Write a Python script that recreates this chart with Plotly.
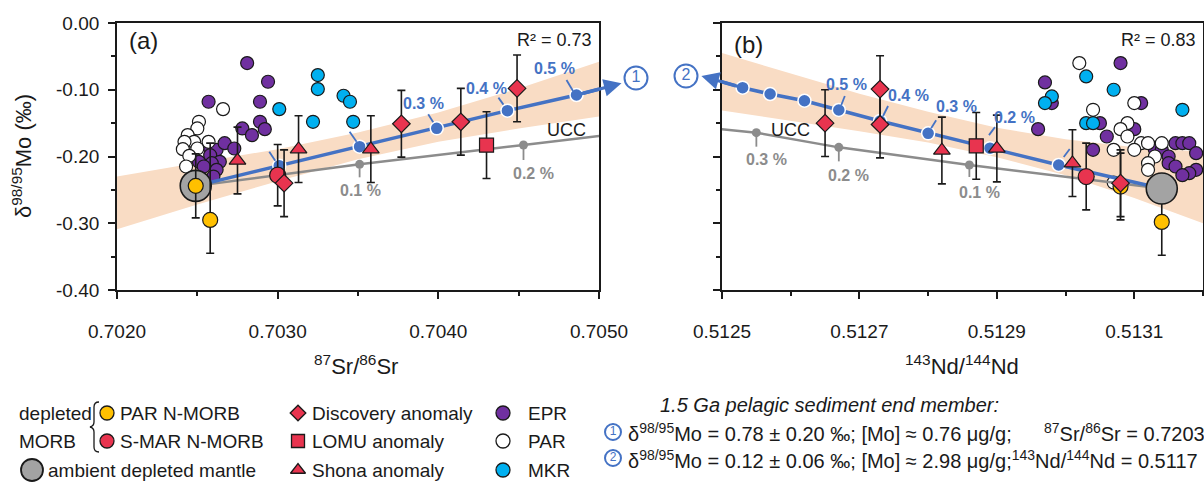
import plotly.graph_objects as go

W, H = 1204, 488

# ---------------- panel (a): 87Sr/86Sr vs d98/95Mo ----------------
epr_a_x = [0.70281, 0.70294, 0.70257, 0.70289, 0.70289, 0.70292, 0.70278, 0.70284, 0.70258, 0.70262,
           0.70258, 0.70264, 0.70259, 0.70262, 0.70251, 0.70267, 0.70273, 0.70260, 0.70254]
epr_a_y = [-0.060, -0.088, -0.118, -0.118, -0.148, -0.159, -0.158, -0.168, -0.188, -0.190,
           -0.198, -0.208, -0.210, -0.220, -0.208, -0.180, -0.188, -0.230, -0.215]
par_a_x = [0.70266, 0.70251, 0.70250, 0.70244, 0.70248, 0.70257, 0.70242, 0.70241, 0.70250, 0.70245, 0.70243]
par_a_y = [-0.129, -0.148, -0.158, -0.168, -0.178, -0.178, -0.178, -0.189, -0.188, -0.199, -0.215]
mkr_a_x = [0.70325, 0.70325, 0.70301, 0.70322, 0.70341, 0.70345, 0.70347]
mkr_a_y = [-0.078, -0.099, -0.129, -0.148, -0.109, -0.118, -0.148]

parn_a_x = [0.70249, 0.70258]
parn_a_y = [-0.244, -0.295]
parn_a_e = [0.048, 0.115]
parn_a_em = [0.048, 0.050]
smar_a_x = [0.70300]
smar_a_y = [-0.228]
smar_a_e = [0.046]
disc_a_x = [0.70304, 0.70377, 0.70414, 0.70449]
disc_a_y = [-0.240, -0.151, -0.148, -0.098]
disc_a_e = [0.050, 0.050, 0.050, 0.050]
lomu_a_x = [0.70430]
lomu_a_y = [-0.183]
lomu_a_e = [0.050]
shona_a_x = [0.70275, 0.70313, 0.70358]
shona_a_y = [-0.206, -0.189, -0.189]
shona_a_e = [0.050, 0.050, 0.050]
adm_a_x = [0.70249]
adm_a_y = [-0.244]

mix_a_x = [0.70249, 0.70301, 0.70351, 0.70399, 0.70443, 0.70486, 0.70514]
mix_a_y = [-0.244, -0.2137, -0.1853, -0.1578, -0.1313, -0.1079, -0.0904]
mix_a_lab = ["", "", "0.3 %", "0.4 %", "0.5 %"]
ucc_a_x = [0.70249, 0.70351, 0.70453, 0.70510]
ucc_a_y = [-0.244, -0.2117, -0.1828, -0.1665]
ucc_a_lab = ["0.1 %", "0.2 %"]

band_a_x = [0.7020, 0.7025, 0.7030, 0.7035, 0.7040, 0.7045, 0.7050]
band_a_up = [-0.230, -0.210, -0.189, -0.164, -0.134, -0.098, -0.058]
band_a_lo = [-0.309, -0.272, -0.237, -0.204, -0.178, -0.158, -0.140]

# ---------------- panel (b): 143Nd/144Nd vs d98/95Mo ----------------
epr_b_x = [0.51308, 0.51297, 0.51298, 0.51311, 0.51305, 0.51296, 0.51310, 0.51306, 0.51316, 0.51317,
           0.51318, 0.51304, 0.51313, 0.51314, 0.51319, 0.51315, 0.51315, 0.51316, 0.51319, 0.51318, 0.51317]
epr_b_y = [-0.060, -0.089, -0.120, -0.120, -0.150, -0.159, -0.159, -0.170, -0.180, -0.180,
           -0.180, -0.190, -0.190, -0.190, -0.195, -0.200, -0.210, -0.215, -0.220, -0.225, -0.228]
par_b_x = [0.51302, 0.51310, 0.51304, 0.51309, 0.51308, 0.51309, 0.51311, 0.51312, 0.51314,
           0.51307, 0.51310, 0.51313, 0.51312, 0.51312, 0.51307]
par_b_y = [-0.060, -0.120, -0.130, -0.150, -0.159, -0.170, -0.180, -0.180, -0.180,
           -0.190, -0.190, -0.200, -0.210, -0.220, -0.239]
mkr_b_x = [0.51303, 0.51307, 0.51298, 0.51297, 0.51303, 0.51304, 0.51317]
mkr_b_y = [-0.080, -0.100, -0.110, -0.120, -0.150, -0.150, -0.130]

parn_b_x = [0.51308, 0.51314]
parn_b_y = [-0.245, -0.298]
parn_b_e = [0.050, 0.050]
parn_b_em = [0.050, 0.050]
smar_b_x = [0.51303]
smar_b_y = [-0.230]
smar_b_e = [0.050]
disc_b_x = [0.51265, 0.51273, 0.51273, 0.51308]
disc_b_y = [-0.150, -0.099, -0.152, -0.240]
disc_b_e = [0.050, 0.050, 0.050, 0.050]
lomu_b_x = [0.51287]
lomu_b_y = [-0.184]
lomu_b_e = [0.050]
shona_b_x = [0.51282, 0.51290, 0.51301]
shona_b_y = [-0.191, -0.188, -0.210]
shona_b_e = [0.050, 0.050, 0.050]
adm_b_x = [0.51314]
adm_b_y = [-0.248]

mix_b_x = [0.51314, 0.51299, 0.51289, 0.51280, 0.51273, 0.51267, 0.51262, 0.51257, 0.51253, 0.51247]
mix_b_y = [-0.248, -0.2127, -0.1875, -0.1653, -0.1468, -0.1303, -0.1164, -0.1064, -0.0969, -0.0794]
mix_b_lab = ["", "0.2 %", "0.3 %", "0.4 %", "0.5 %"]
ucc_b_x = [0.51314, 0.51286, 0.51267, 0.51255, 0.51245]
ucc_b_y = [-0.248, -0.2127, -0.1863, -0.1643, -0.1540]
ucc_b_lab = ["0.1 %", "0.2 %", "0.3 %"]

band_b_x = [0.5125, 0.5126, 0.5127, 0.5128, 0.5129, 0.5130, 0.5131, 0.5132]
band_b_up = [-0.045, -0.076, -0.106, -0.133, -0.157, -0.174, -0.186, -0.193]
band_b_lo = [-0.131, -0.146, -0.162, -0.179, -0.201, -0.228, -0.262, -0.300]

# ---------------- axes ticks ----------------
y_ticks = [0.0, -0.1, -0.2, -0.3, -0.4]
y_tick_labels = ["0.00", "-0.10", "-0.20", "-0.30", "-0.40"]
y_minor = [-0.05, -0.15, -0.25, -0.35]
sr_ticks = [0.7020, 0.7030, 0.7040, 0.7050]
sr_tick_labels = ["0.7020", "0.7030", "0.7040", "0.7050"]
sr_minor = [0.7025, 0.7035, 0.7045]
nd_ticks = [0.5125, 0.5127, 0.5129, 0.5131]
nd_tick_labels = ["0.5125", "0.5127", "0.5129", "0.5131"]
nd_minor = [0.5126, 0.5128, 0.5130, 0.5132]

# ---------------- styles ----------------
FONT = "Arial, Liberation Sans, sans-serif"
INK = "#1a1a1a"
BLUE = "#4472C4"
UCCG = "#8C8C8C"
PURPLE = "#7030A0"
CYAN = "#00B0F0"
YELLOW = "#FFC000"
RED = "#E8344F"
ADM = "#A3A3A3"
BAND = "#F9DCC4"

fig = go.Figure()


def mk(color, size, symbol="circle", lw=1.2, lc=INK):
    return dict(color=color, size=size, symbol=symbol, line=dict(color=lc, width=lw))


def err(arr, arrm=None):
    d = dict(type="data", array=arr, color=INK, thickness=1.6, width=4)
    if arrm is not None:
        d.update(symmetric=False, arrayminus=arrm)
    return d


def add_panel(xa, ya, bx, bup, blo, epr, par, mkr, ucc, mix, samples, adm, yellow_on_top):
    fig.add_trace(go.Scatter(x=bx + bx[::-1], y=bup + blo[::-1], fill="toself", fillcolor=BAND,
                             line=dict(width=0), mode="lines", xaxis=xa, yaxis=ya))
    for (xs, ys), col in zip([epr, par, mkr], [PURPLE, "white", CYAN]):
        fig.add_trace(go.Scatter(x=xs, y=ys, mode="markers", marker=mk(col, 13), xaxis=xa, yaxis=ya))
    ux, uy = ucc
    fig.add_trace(go.Scatter(x=ux, y=uy, mode="lines", line=dict(color=UCCG, width=2.5), xaxis=xa, yaxis=ya))
    fig.add_trace(go.Scatter(x=ux[1:-1], y=uy[1:-1], mode="markers", marker=dict(color=UCCG, size=9),
                             xaxis=xa, yaxis=ya))
    mx, my = mix
    fig.add_trace(go.Scatter(x=mx, y=my, mode="lines", line=dict(color=BLUE, width=3.5), xaxis=xa, yaxis=ya))
    fig.add_trace(go.Scatter(x=mx[1:-1], y=my[1:-1], mode="markers",
                             marker=dict(color=BLUE, size=13, line=dict(color="white", width=1.5)),
                             xaxis=xa, yaxis=ya, cliponaxis=False))
    yel, smar, disc, lomu, shona = samples

    def sample(s, col, size, sym):
        fig.add_trace(go.Scatter(x=s[0], y=s[1], error_y=err(s[2], s[3] if len(s) > 3 else None),
                                 mode="markers", marker=mk(col, size, sym), xaxis=xa, yaxis=ya))

    if not yellow_on_top:
        sample(yel, YELLOW, 15, "circle")
    sample(smar, RED, 16, "circle")
    sample(disc, RED, 13.5, "diamond")
    sample(lomu, RED, 14, "square")
    sample(shona, RED, 14.5, "triangle-up")
    fig.add_trace(go.Scatter(x=adm[0], y=adm[1], mode="markers", marker=mk(ADM, 31, lw=1.6),
                             xaxis=xa, yaxis=ya))
    if yellow_on_top:
        sample(yel, YELLOW, 15, "circle")


add_panel("x", "y", band_a_x, band_a_up, band_a_lo,
          (epr_a_x, epr_a_y), (par_a_x, par_a_y), (mkr_a_x, mkr_a_y),
          (ucc_a_x, ucc_a_y), (mix_a_x, mix_a_y),
          [(parn_a_x, parn_a_y, parn_a_e, parn_a_em), (smar_a_x, smar_a_y, smar_a_e),
           (disc_a_x, disc_a_y, disc_a_e), (lomu_a_x, lomu_a_y, lomu_a_e), (shona_a_x, shona_a_y, shona_a_e)],
          (adm_a_x, adm_a_y), True)
add_panel("x2", "y2", band_b_x, band_b_up, band_b_lo,
          (epr_b_x, epr_b_y), (par_b_x, par_b_y), (mkr_b_x, mkr_b_y),
          (ucc_b_x, ucc_b_y), (mix_b_x, mix_b_y),
          [(parn_b_x, parn_b_y, parn_b_e, parn_b_em), (smar_b_x, smar_b_y, smar_b_e),
           (disc_b_x, disc_b_y, disc_b_e), (lomu_b_x, lomu_b_y, lomu_b_e), (shona_b_x, shona_b_y, shona_b_e)],
          (adm_b_x, adm_b_y), False)

# ---------------- overlay (pixel) layer for legend symbols ----------------
leg_mk = [  # x_px, y_px, color, size, symbol
    (107, 413, YELLOW, 14, "circle"), (107, 441, RED, 14, "circle"), (32, 470, ADM, 22, "circle"),
    (298, 413, RED, 12, "diamond"), (298, 441, RED, 13, "square"), (298, 470, RED, 13, "triangle-up"),
    (503, 413, PURPLE, 14, "circle"), (503, 441, "white", 14, "circle"), (503, 470, CYAN, 14, "circle"),
]
for x, y, c, s, sym in leg_mk:
    fig.add_trace(go.Scatter(x=[x], y=[y], mode="markers", marker=mk(c, s, sym, lw=1.3 if s < 20 else 1.8),
                             xaxis="x3", yaxis="y3", cliponaxis=False))
for x, y, s, t, fs in [(636, 78, 23, "1", 16), (686, 76, 23, "2", 16), (613, 432, 16, "1", 12), (613, 458, 16, "2", 12)]:
    fig.add_trace(go.Scatter(x=[x], y=[y], mode="markers+text", text=[t], textposition="middle center",
                             textfont=dict(family=FONT, size=fs, color=BLUE),
                             marker=dict(symbol="circle-open", size=s, color=BLUE, line=dict(width=2)),
                             xaxis="x3", yaxis="y3", cliponaxis=False))

for tr in fig.data:
    tr.showlegend = False
    tr.hoverinfo = "skip"

ann = []
shp = []


def txt(x, y, text, size=19, xref="x3", yref="y3", xanchor="left", color=INK, **kw):
    ann.append(dict(x=x, y=y, xref=xref, yref=yref, text=text, showarrow=False, xanchor=xanchor,
                    yanchor=kw.pop("yanchor", "middle"), font=dict(family=FONT, size=size, color=color), **kw))


def leaders(xa, ya, xs, ys, labels, segs, lab_off, color, size=16):
    # leader segment (pixel offsets from the dot, y up) and label offset
    for i, (xv, yv, (x0, y0, x1, y1)) in enumerate(zip(xs, ys, segs)):
        shp.append(dict(type="line", xref=xa, yref=ya, xsizemode="pixel", ysizemode="pixel",
                        xanchor=xv, yanchor=yv, x0=x0, y0=y0, x1=x1, y1=y1,
                        line=dict(color=color, width=1.8)))
        if i < len(labels) and labels[i]:
            dx, dy = lab_off[i]
            ann.append(dict(x=xv, y=yv, xref=xa, yref=ya, text=f"<b>{labels[i]}</b>", showarrow=False,
                            xshift=dx, yshift=dy, font=dict(family=FONT, size=size, color=color)))


leaders("x", "y", mix_a_x[1:6], mix_a_y[1:6], mix_a_lab,
        [(-4, 5, -10, 14), (-3, 5, -10, 15), (-3.5, 6, -8.5, 14), (-4, 6, -9, 13), (-3.5, 4, -10, 15)],
        [None, None, (-13, 25), (-21, 22), (-22, 27)], BLUE)
leaders("x", "y", ucc_a_x[1:3], ucc_a_y[1:3], ucc_a_lab,
        [(0, -4, 0, -13), (0, -4, 0, -15)], [(1, -26), (10, -28)], UCCG)
leaders("x2", "y2", mix_b_x[1:6], mix_b_y[1:6], mix_b_lab,
        [(5, 8, 11, 16), (-1, 13, 5, 21), (3, 5, 8, 13), (3, 5, 8, 15), (2.5, 5, 6, 14)],
        [None, (25, 31), (28, 27), (28, 25), (8, 25)], BLUE)
leaders("x2", "y2", ucc_b_x[1:4], ucc_b_y[1:4], ucc_b_lab,
        [(0, -3, 0, -12), (0, -3, 0, -14), (0, -3, 0, -14)], [(10, -28), (10, -28), (10, -27)], UCCG)

# end-member arrows
for xa, ya, mx, my in [("x", "y", mix_a_x, mix_a_y), ("x2", "y2", mix_b_x, mix_b_y)]:
    ann.append(dict(x=mx[-1], y=my[-1], xref=xa, yref=ya, ax=mx[-2], ay=my[-2], axref=xa, ayref=ya,
                    text="", showarrow=True, arrowhead=2, arrowsize=1.1, arrowwidth=3.2, arrowcolor=BLUE,
                    standoff=0))

# UCC text
txt(0.70480, -0.160, "UCC", size=18, xref="x", yref="y", xanchor="center")
txt(0.51260, -0.160, "UCC", size=18, xref="x2", yref="y2", xanchor="center")
# panel labels and R2
txt(0.021, 0.936, "(a)", size=24, xref="x domain", yref="y domain")
txt(0.021, 0.918, "(b)", size=24, xref="x2 domain", yref="y2 domain")
txt(0.99, 0.936, "R² = 0.73", size=18, xref="x domain", yref="y domain", xanchor="right")
txt(0.99, 0.936, "R² = 0.83", size=18, xref="x2 domain", yref="y2 domain", xanchor="right")
# axis titles
txt(22, 156, "δ<sup>98/95</sup>Mo (‰)", size=22, xanchor="center", textangle=-90)
txt(356, 365, "<sup>87</sup>Sr/<sup>86</sup>Sr", size=22, xanchor="center")
txt(962, 365, "<sup>143</sup>Nd/<sup>144</sup>Nd", size=22, xanchor="center")
# legend texts
LF = 19
txt(17, 413, "depleted", size=LF)
txt(17, 441, "MORB", size=LF)
txt(118, 413, "PAR N-MORB", size=LF)
txt(118, 441, "S-MAR N-MORB", size=LF)
txt(46, 470, "ambient depleted mantle", size=LF)
txt(310, 413, "Discovery anomaly", size=LF)
txt(310, 441, "LOMU anomaly", size=LF)
txt(310, 470, "Shona anomaly", size=LF)
txt(526, 413, "EPR", size=LF)
txt(526, 441, "PAR", size=LF)
txt(526, 470, "MKR", size=LF)
# end-member block
txt(658, 405, "<i>1.5 Ga pelagic sediment end member:</i>", size=20)
txt(626, 432, "δ<sup>98/95</sup>Mo = 0.78 ± 0.20 ‰; [Mo] ≈ 0.76 μg/g;", size=20)
txt(1207 / W, 1 - 432 / H, "<sup>87</sup>Sr/<sup>86</sup>Sr = 0.7203", size=20, xref="paper", yref="paper",
    xanchor="right")
txt(626, 459, "δ<sup>98/95</sup>Mo = 0.12 ± 0.06 ‰; [Mo] ≈ 2.98 μg/g;<sup>143</sup>Nd/<sup>144</sup>Nd = 0.5117",
    size=20)

axc = dict(showline=True, linecolor=INK, linewidth=1.8, mirror=True, ticks="outside", ticklen=7,
           tickwidth=1.8, tickcolor=INK, showgrid=False, zeroline=False, automargin=False,
           tickfont=dict(family=FONT, size=19, color=INK))
ydom = [1 - 290 / H, 1 - 23 / H]
minor_x = lambda v: dict(ticks="outside", ticklen=4, tickwidth=1.5, tickcolor=INK, tickvals=v)

shp.append(dict(type="path", xref="x3", yref="y3",
                path="M 99 402 Q 94 402 94 407 L 94 422 Q 94 426 90 427 Q 94 428 94 432 L 94 447 Q 94 452 99 452",
                line=dict(color=INK, width=1.3)))

fig.update_layout(
    width=W, height=H, margin=dict(l=0, r=0, t=0, b=0, pad=0, autoexpand=False),
    paper_bgcolor="white", plot_bgcolor="rgba(0,0,0,0)",
    font=dict(family=FONT, color=INK),
    xaxis=dict(axc, domain=[117 / W, 599 / W], range=[0.7020, 0.7050], tickmode="array",
               tickvals=sr_ticks, ticktext=sr_tick_labels, minor=minor_x(sr_minor), anchor="y",
               ticklabelstandoff=16),
    yaxis=dict(axc, domain=ydom, range=[-0.40, 0.0], tickmode="array", tickvals=y_ticks,
               ticktext=y_tick_labels, minor=minor_x(y_minor), anchor="x", ticklabelstandoff=5),
    xaxis2=dict(axc, domain=[722 / W, 1203 / W], range=[0.5125, 0.5132], tickmode="array",
                tickvals=nd_ticks, ticktext=nd_tick_labels, minor=minor_x(nd_minor), anchor="y2",
                ticklabelstandoff=16),
    yaxis2=dict(axc, domain=ydom, range=[-0.40, 0.0], tickmode="array", tickvals=y_ticks,
                showticklabels=False, minor=minor_x(y_minor), anchor="x2"),
    xaxis3=dict(domain=[0, 1], range=[0, W], visible=False, fixedrange=True, anchor="y3", automargin=False),
    yaxis3=dict(domain=[0, 1], range=[H, 0], visible=False, fixedrange=True, anchor="x3", automargin=False),
    annotations=ann,
    shapes=shp,
)

fig.write_html("out.html")
